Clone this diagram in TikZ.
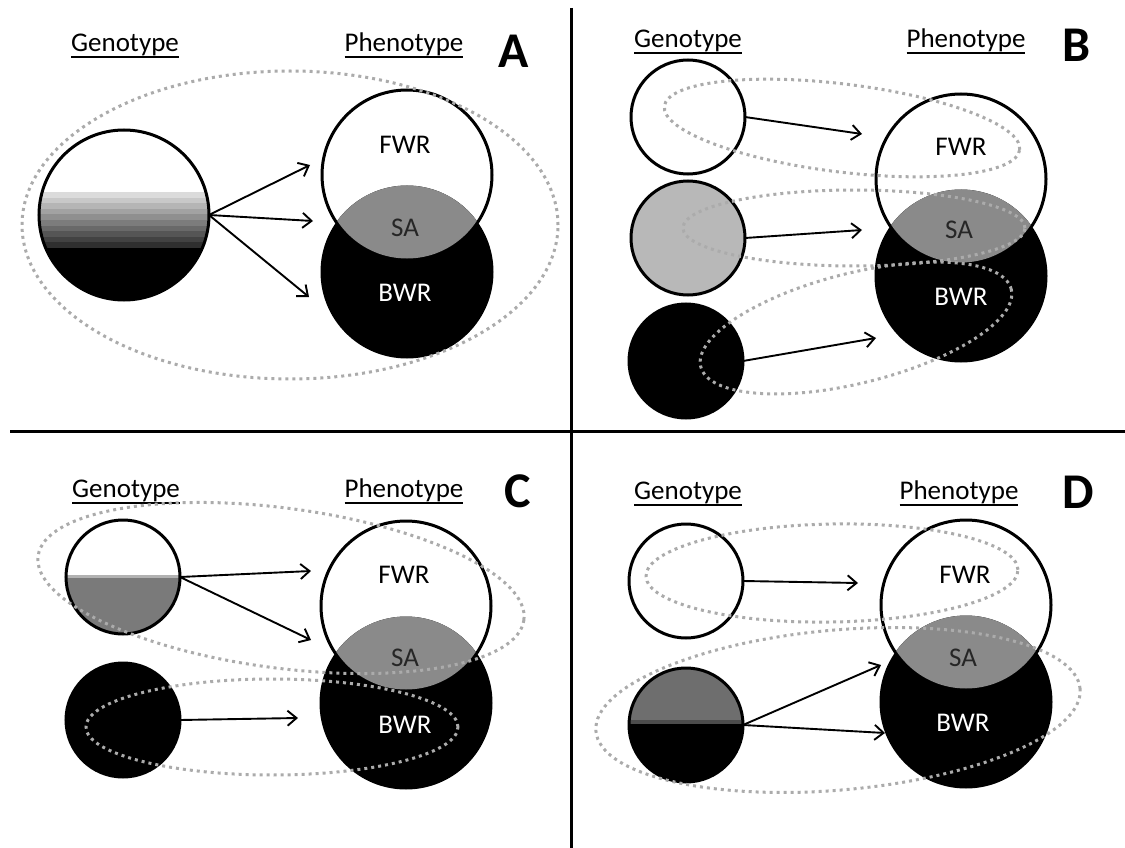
\documentclass[tikz,border=0pt]{standalone}
\usepackage{fontspec}
\setmainfont{Carlito}
\usetikzlibrary{arrows.meta,calc}
\definecolor{sagray}{HTML}{8A8A8A}
\definecolor{dotgray}{HTML}{ABABAB}
\definecolor{lightg}{HTML}{B8B8B8}
\definecolor{midg}{HTML}{7A7A7A}
\definecolor{darkg}{HTML}{6E6E6E}
\newcommand\ulin[1]{\setbox0\hbox{#1}\leavevmode\rlap{\rule[-6.5pt]{\wd0}{2pt}}\box0}
\newcommand\myvenn[3]{%
  \node[ring=170pt, fill=white] (#1F) at (#2) {};
  \node[circle, fill=black, minimum size=173pt, inner sep=0pt] (#1B) at (#3) {};
  \begin{scope}
    \clip (#1F.center) circle[radius=83.5pt];
    \fill[sagray] (#1B.center) circle[radius=86.5pt];
  \end{scope}
}
\begin{document}
\begin{tikzpicture}[x=1pt,y=-1pt,
  ring/.style={circle, draw=black, line width=3pt, minimum size=#1, inner sep=0pt, outer sep=0pt},
  lab/.style={font=\fontsize{27}{32}\selectfont, inner sep=0pt},
  hdr/.style={font=\fontsize{27}{32}\selectfont, inner sep=0pt, anchor=base},
  plabel/.style={font=\fontsize{50}{60}\selectfont\bfseries, inner sep=0pt, anchor=base},
  dotell/.style={draw=dotgray, line width=3pt, dash pattern=on 3pt off 4pt},
  arr/.style={-{Straight Barb[length=9pt,width=15pt]}, line width=1.9pt},
  divider/.style={line width=3pt}
]
\useasboundingbox (0,0) rectangle (1125,848);

% dividers
\coordinate (vtop) at (571,8);
\coordinate (vbot) at (571,848);
\coordinate (hl) at (10,431);
\coordinate (hr) at (1125,431);
\draw[divider] (vtop) -- (vbot);
\draw[divider] (hl) -- (hr);

% ================= Panel A =================
\node[hdr] (genA) at (125,52) {\ulin{Genotype}};
\node[hdr] (phenA) at (404,52) {\ulin{Phenotype}};
\node[plabel] (labA) at (514,68) {A};
\node[ring=170pt, path picture={
   \foreach \i in {0,...,9}{
     \pgfmathsetmacro{\shd}{14+7.5*\i}
     \fill[black!\shd] ($(path picture bounding box.center)+(-90,-23+5.6*\i)$) rectangle ($(path picture bounding box.center)+(90,-23+5.6*\i+5.8)$);
   }
   \fill[black] ($(path picture bounding box.center)+(-90,33)$) rectangle ($(path picture bounding box.center)+(90,90)$);
 }] (gA) at (124,215) {};
\myvenn{vA}{407,175}{407,272}
\node[lab] (fwrA) at (405,145) {FWR};
\node[lab, text=black!85] (saA) at (405,228) {SA};
\node[lab, text=white] (bwrA) at (405,293) {BWR};
\coordinate (aA1) at (310,165);
\coordinate (aA2) at (313,221);
\coordinate (aA3) at (309,297);
\draw[arr] (gA.east) -- (aA1);
\draw[arr] (gA.east) -- (aA2);
\draw[arr] (gA.east) -- (aA3);
\draw[dotell] (290,225) ellipse [x radius=268pt, y radius=154pt];

% ================= Panel B =================
\node[hdr] (genB) at (688,48) {\ulin{Genotype}};
\node[hdr] (phenB) at (966,48) {\ulin{Phenotype}};
\node[plabel] (labB) at (1077,62) {B};
\node[ring=114pt, fill=white] (gB1) at (688,117) {};
\node[ring=114pt, fill=lightg] (gB2) at (688,238) {};
\node[ring=114pt, fill=black] (gB3) at (686,361) {};
\myvenn{vB}{961,179}{961,276}
\node[lab] (fwrB) at (961,147) {FWR};
\node[lab, text=black!85] (saB) at (959,230) {SA};
\node[lab, text=white] (bwrB) at (961,297) {BWR};
\coordinate (aB1) at (862,134);
\coordinate (aB2) at (862,230);
\coordinate (aB3) at (876,338);
\draw[arr] (gB1.east) -- (aB1);
\draw[arr] (gB2.east) -- (aB2);
\draw[arr] (gB3.east) -- (aB3);
\draw[dotell, rotate around={-7:(842,128)}] (842,128) ellipse [x radius=179pt, y radius=44pt];
\draw[dotell] (854,228) ellipse [x radius=171pt, y radius=38pt];
\draw[dotell, rotate around={14:(856,328)}] (856,328) ellipse [x radius=160pt, y radius=55pt];

% ================= Panel C =================
\node[hdr] (genC) at (126,497) {\ulin{Genotype}};
\node[hdr] (phenC) at (404,497) {\ulin{Phenotype}};
\node[plabel] (labC) at (518,507) {C};
\node[ring=114pt, fill=white, path picture={
   \fill[black!30] ($(path picture bounding box.center)+(-60,-2)$) rectangle ($(path picture bounding box.center)+(60,1)$);
   \fill[midg] ($(path picture bounding box.center)+(-60,1)$) rectangle ($(path picture bounding box.center)+(60,60)$);
 }] (gC1) at (123,577) {};
\node[ring=114pt, fill=black] (gC2) at (123,720) {};
\myvenn{vC}{406,606}{406,703}
\node[lab] (fwrC) at (404,575) {FWR};
\node[lab, text=black!85] (saC) at (405,658) {SA};
\node[lab, text=white] (bwrC) at (405,725) {BWR};
\coordinate (aC1) at (311,571);
\coordinate (aC2) at (311,640);
\coordinate (aC3) at (298,718);
\draw[arr] (gC1.east) -- (aC1);
\draw[arr] (gC1.east) -- (aC2);
\draw[arr] (gC2.east) -- (aC3);
\draw[dotell, rotate around={-7.5:(281,588)}] (281,588) ellipse [x radius=245pt, y radius=80pt];
\draw[dotell] (272,727) ellipse [x radius=186pt, y radius=48pt];

% ================= Panel D =================
\node[hdr] (genD) at (688,499) {\ulin{Genotype}};
\node[hdr] (phenD) at (959,499) {\ulin{Phenotype}};
\node[plabel] (labD) at (1078,508) {D};
\node[ring=114pt, fill=white] (gD1) at (686,581) {};
\node[ring=114pt, fill=black, path picture={
   \fill[darkg] ($(path picture bounding box.center)+(-60,-60)$) rectangle ($(path picture bounding box.center)+(60,-5)$);
   \fill[black!70] ($(path picture bounding box.center)+(-60,-5)$) rectangle ($(path picture bounding box.center)+(60,-1)$);
 }] (gD2) at (686,725) {};
\myvenn{vD}{966,605}{966,702}
\node[lab] (fwrD) at (965,575) {FWR};
\node[lab, text=black!85] (saD) at (963,658) {SA};
\node[lab, text=white] (bwrD) at (963,723) {BWR};
\coordinate (aD1) at (858,583);
\coordinate (aD2) at (881,665);
\coordinate (aD3) at (885,733);
\draw[arr] (gD1.east) -- (aD1);
\draw[arr] (gD2.east) -- (aD2);
\draw[arr] (gD2.east) -- (aD3);
\draw[dotell, rotate around={1:(832,573)}] (832,573) ellipse [x radius=186pt, y radius=49pt];
\draw[dotell, rotate around={5:(838,710)}] (838,710) ellipse [x radius=243pt, y radius=80pt];
\end{tikzpicture}
\end{document}
